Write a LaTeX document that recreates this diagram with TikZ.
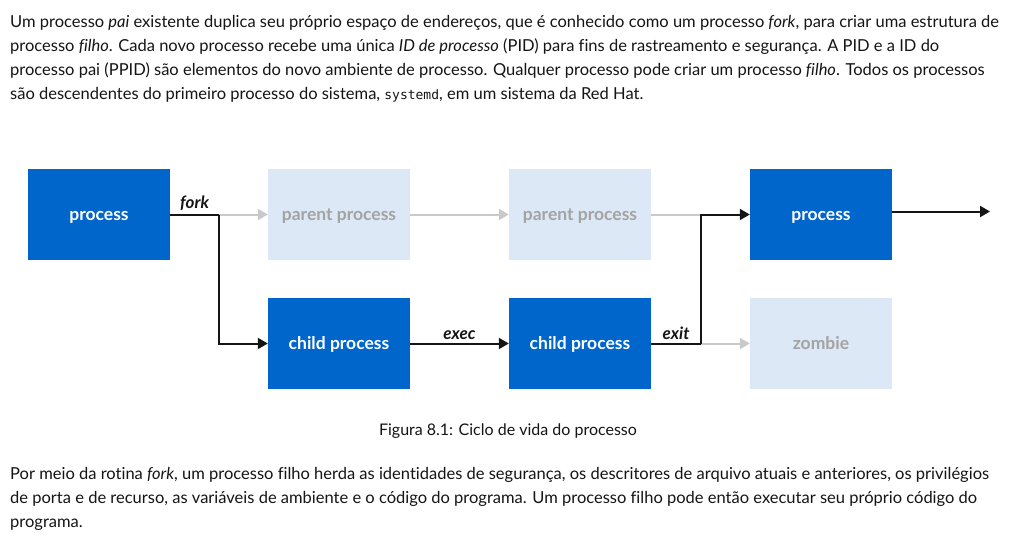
\documentclass[tikz,border=0pt]{standalone}
\usepackage{fontspec}
\setmainfont[Ligatures={TeX,NoCommon}]{Lato}
\setmonofont{DejaVu Sans Mono}
\usetikzlibrary{arrows.meta}

\definecolor{rhblue}{HTML}{0066CC}
\definecolor{rhpale}{HTML}{DCE8F6}
\definecolor{rhgreytext}{HTML}{A3A3A3}
\definecolor{rhgreyline}{HTML}{C9C9C9}
\definecolor{rhtext}{HTML}{151515}

\tikzset{
  live/.style={fill=rhblue, text=white, minimum width=142pt, minimum height=91pt,
    inner sep=0pt, text height=15pt, text depth=4pt, font=\fontsize{17.5}{20}\selectfont\bfseries},
  gone/.style={live, fill=rhpale, text=rhgreytext},
  flow/.style={draw=rhtext, line width=2pt, -{Triangle[length=10pt,width=11pt]}},
  fade/.style={flow, draw=rhgreyline, -{Triangle[length=10pt,width=11pt,fill=rhgreyline]}},
  plain/.style={draw=rhtext, line width=2pt},
  lbl/.style={text=rhtext, font=\fontsize{17}{20}\selectfont\bfseries\itshape, inner sep=3pt},
  para/.style={anchor=base west, inner sep=0pt, text=rhtext, font=\fontsize{16.5}{19}\selectfont},
  caption/.style={anchor=base, inner sep=0pt, text=rhtext, font=\fontsize{16}{19}\selectfont}
}

\begin{document}
\begin{tikzpicture}[x=1pt, y=-1pt]
    \useasboundingbox[fill=white] (0,0) rectangle (1018,539);
    % Text above
    \node[para] (top1) at (10,27) {Um processo \emph{pai} existente duplica seu próprio espaço de endereços, que é conhecido como um processo \emph{fork}, para criar uma estrutura de};
    \node[para] (top2) at (10,51) {processo \emph{filho}. Cada novo processo recebe uma única \emph{ID de processo} (PID) para fins de rastreamento e segurança. A PID e a ID do};
    \node[para] (top3) at (10,75) {processo pai (PPID) são elementos do novo ambiente de processo. Qualquer processo pode criar um processo \emph{filho}. Todos os processos};
    \node[para] (top4) at (10,99) {são descendentes do primeiro processo do sistema, {\fontsize{13}{16}\selectfont\ttfamily systemd}, em um sistema da Red Hat.};

    % Boxes
    \node[live] (proc) at (99,214.5) {process};
    \node[gone] (parentA) at (339,214.5) {parent process};
    \node[gone] (parentB) at (580,214.5) {parent process};
    \node[live] (procB) at (821,214.5) {process};
    \node[live] (childA) at (339,343.5) {child process};
    \node[live] (childB) at (580,343.5) {child process};
    \node[gone] (zombie) at (821,343.5) {zombie};

    \coordinate (forkpt) at (219,214.5);
    \coordinate (joinpt) at (701,214.5);
    \coordinate (exitpt) at (701,343.5);
    \coordinate (outpt) at (990,211.5);

    % Faded paths
    \draw[fade] (forkpt) -- (parentA);
    \draw[fade] (parentA) -- (parentB);
    \draw[plain, draw=rhgreyline] (parentB) -- (joinpt);
    \draw[fade] (exitpt) -- (zombie);

    % Live paths
    \draw[plain] (proc) -- node[lbl, above] {fork} (forkpt);
    \draw[flow] (forkpt) |- (childA);
    \draw[flow] (childA) -- node[lbl, above] {exec} (childB);
    \draw[plain] (childB) -- node[lbl, above] {exit} (exitpt);
    \draw[flow] (exitpt) |- (procB);
    \draw[flow] ([yshift=3pt]procB.east) -- (outpt);

    \node[caption] (cap) at (508,435) {Figura 8.1: Ciclo de vida do processo};

    % Text below
    \node[para] (bot1) at (10,479) {Por meio da rotina \emph{fork}, um processo filho herda as identidades de segurança, os descritores de arquivo atuais e anteriores, os privilégios};
    \node[para] (bot2) at (10,503) {de porta e de recurso, as variáveis de ambiente e o código do programa. Um processo filho pode então executar seu próprio código do};
    \node[para] (bot3) at (10,527) {programa.};
\end{tikzpicture}
\end{document}
